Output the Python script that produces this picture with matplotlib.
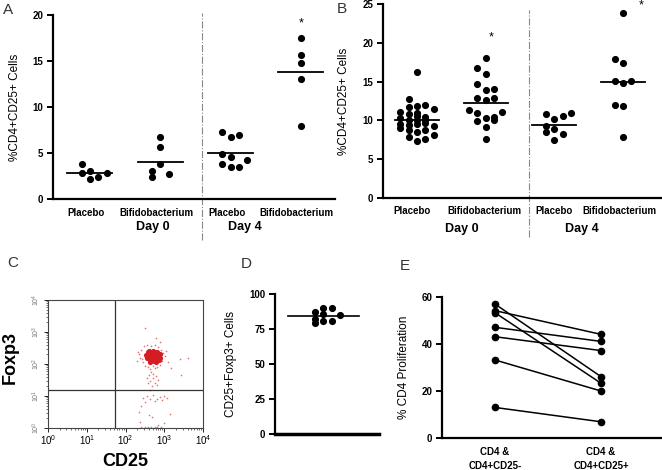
import matplotlib
matplotlib.use("Agg")
import matplotlib.pyplot as plt
import matplotlib.transforms as mtrans
import numpy as np

plt.rcParams['font.family'] = ['Liberation Sans', 'DejaVu Sans']

W, H = 662, 470

# ---------------- data ----------------
groups = ['Placebo', 'Bifidobacterium', 'Placebo', 'Bifidobacterium']
days = ['Day 0', 'Day 4']

# panel A: swarm column and value of every dot, per group
a_cols = [[-1, -1, 0, 0, 1, 2],
          [0, 0, 0, -1, -1, 1],
          [-1, -1, -1, 0, 0, 0, 1, 1, 2],
          [0, 0, 0, 0, 0]]
a_vals = [[3.8, 2.83, 3.08, 2.14, 2.43, 2.86],
          [6.7, 5.69, 3.8, 3.04, 2.43, 2.68],
          [7.25, 4.93, 3.77, 6.78, 4.53, 3.51, 6.96, 3.51, 4.24],
          [17.5, 15.7, 14.75, 13.04, 7.93]]
a_means = [2.83, 4.02, 5.0, 13.77]

# panel B
b_cols = [[-2, -2, -2, -2,
           -1, -1, -1, -1, -1, -1, -1,
           0, 0, 0, 0, 0, 0, 0, 0,
           1, 1, 1, 1, 1, 1,
           2, 2, 2],
          [-2, -1, -1, -1, -1, -1, 0, 0, 0, 0, 0, 0, 0, 1, 1, 1, 1, 2],
          [-1, -1, -1, 0, 0, 0, 1, 1, 2],
          [-1, -1, -1, 0, 0, 0, 0, 0, 1]]
b_vals = [[11.1, 10.3, 9.6, 9.0,
           12.8, 11.7, 10.8, 10.1, 9.4, 8.7, 7.8,
           16.3, 11.9, 11.0, 10.6, 10.0, 9.6, 8.5, 7.3,
           12.0, 10.5, 10.1, 9.7, 8.7, 7.6,
           11.5, 9.3, 8.1],
          [11.3, 16.7, 14.7, 12.85, 10.9, 9.9,
           18.0, 16.0, 13.9, 12.6, 10.3, 9.15, 7.66,
           14.1, 12.85, 10.5, 10.1, 11.1],
          [10.85, 9.3, 8.5, 10.2, 8.85, 7.5, 10.6, 8.3, 10.9],
          [17.9, 15.1, 12.0, 23.9, 17.45, 14.8, 11.8, 7.9, 15.1]]
b_means = [10.1, 12.3, 9.36, 15.0]

# panel C: flow cytometry events, log10 units (CD25, Foxp3)
core_cd25 = [2.55, 2.60, 2.62, 2.66, 2.68, 2.70, 2.72, 2.74, 2.76, 2.78, 2.80, 2.84, 2.88,
             2.58, 2.64, 2.70, 2.82, 2.86, 2.52, 2.90, 2.66, 2.74, 2.62, 2.78, 2.70, 2.60]
core_foxp3 = [2.20, 2.30, 2.12, 2.25, 2.35, 2.18, 2.28, 2.10, 2.24, 2.33, 2.16, 2.26, 2.20,
              2.38, 2.05, 2.40, 2.38, 2.12, 2.28, 2.30, 2.15, 2.36, 2.22, 2.05, 2.28, 2.42]
halo_cd25 = [2.35, 2.40, 2.42, 2.45, 2.38, 2.48, 2.55, 2.65, 2.75, 2.85, 2.92, 2.98, 3.02,
             2.95, 2.90, 3.05, 2.88, 2.78, 2.50, 2.58, 2.62, 2.70, 2.75, 2.82, 2.66, 2.72,
             2.60, 2.78, 2.70, 2.64, 2.58, 2.76, 2.68, 2.80, 2.55, 2.85, 2.62, 3.10, 3.18,
             3.44, 3.40, 3.60, 2.51, 2.32, 2.30,
             2.45, 2.55, 2.62, 2.70, 2.80, 2.88, 2.95, 3.00, 3.08, 2.50, 2.75, 2.40, 2.35,
             2.60, 2.68, 2.85, 3.15, 2.38, 2.40, 2.50, 2.58, 2.66, 2.75, 2.82, 2.92, 3.00]
halo_foxp3 = [2.30, 2.45, 2.15, 2.05, 2.20, 2.55, 2.60, 2.55, 2.58, 2.52, 2.45, 2.35, 2.25,
              2.10, 1.98, 2.40, 2.70, 2.80, 1.95, 1.92, 1.85, 1.95, 1.88, 1.90, 1.75, 1.70,
              1.65, 1.62, 1.55, 1.48, 1.40, 1.42, 1.30, 1.35, 1.55, 1.50, 1.20, 2.05, 1.86,
              1.65, 2.15, 2.18, 3.12, 2.38, 2.10,
              0.95, 1.00, 0.90, 1.02, 0.92, 0.98, 0.88, 1.00, 0.95, 0.82, 0.85, 0.70, 0.50,
              0.40, 0.35, 0.10, 0.45, 0.18, 0.03, 0.04, 0.03, 0.04, 0.03, 0.04, 0.03, 0.15]
gate_cd25 = 54
gate_foxp3 = 15

# panel D
d_cols = [-1, -1, -1, 0, 0, 0, 1, 1, 2]
d_vals = [87.4, 82.5, 79.5, 90.2, 85.7, 80.7, 90.2, 80.7, 85.0]
d_mean = 84.5

# panel E: paired values
e_labels = ['CD4 &\nCD4+CD25-', 'CD4 &\nCD4+CD25+']
e_left = [57.0, 54.2, 53.3, 47.1, 43.1, 33.2, 13.0]
e_right = [26.1, 44.1, 23.3, 41.1, 37.2, 20.0, 6.9]

# ---------------- figure ----------------
fig = plt.figure(figsize=(W / 100, H / 100), dpi=100)


def px_axes(l, t, r, b):
    return fig.add_axes([l / W, 1 - b / H, (r - l) / W, (b - t) / H])


def style_axes(ax):
    for s in ['top', 'right']:
        ax.spines[s].set_visible(False)
    for s in ['left', 'bottom']:
        ax.spines[s].set_linewidth(1.6)
    ax.tick_params(axis='y', direction='out', length=4, width=1.4, labelsize=7, pad=3)
    for lab in ax.get_yticklabels():
        lab.set_fontweight('bold')


def swarm_panel(ax, cols, vals, means, step, half):
    for i, (c, v) in enumerate(zip(cols, vals)):
        x = i + 1 + np.array(c) * step
        ax.scatter(x, v, s=17, color='black', zorder=3, clip_on=False)
        ax.plot([i + 1 - half, i + 1 + half], [means[i], means[i]], color='black', lw=1.3)


# ---- A ----
axA = px_axes(53, 15, 335, 199)
swarm_panel(axA, a_cols, a_vals, a_means, 0.12, 0.32)
axA.set_xlim(0.474, 4.485)
axA.set_ylim(0, 20)
axA.set_yticks([0, 5, 10, 15, 20])
axA.set_xticks([])
style_axes(axA)
axA.set_ylabel('%CD4+CD25+ Cells', fontsize=8.5)
axA.yaxis.set_label_coords((21 - 53) / 282, 0.5)
axA.axvline(2.593, ymin=(199 - 240) / 184, ymax=1.01, color='#888888', lw=0.8,
            ls='-.', clip_on=False)
axA.text(4, 19.1, '*', ha='center', va='center', fontsize=9)
trA = mtrans.blended_transform_factory(axA.transData, fig.transFigure)
for x, g in zip([0.94, 1.95, 2.95, 3.93], groups):
    axA.text(x, 1 - 216.5 / H, g, transform=trA, ha='center', va='baseline',
             fontsize=7, fontweight='bold')
for x, d in zip([1.9, 3.2], days):
    axA.text(x, 1 - 230 / H, d, transform=trA, ha='center', va='baseline',
             fontsize=9, fontweight='bold')

# ---- B ----
axB = px_axes(383, 4, 662, 198)
swarm_panel(axB, b_cols, b_vals, b_means, 0.122, 0.32)
axB.set_xlim(0.505, 4.566)
axB.set_ylim(0, 25)
axB.set_yticks([0, 5, 10, 15, 20, 25])
axB.set_xticks([])
style_axes(axB)
axB.set_ylabel('%CD4+CD25+ Cells', fontsize=8.5)
axB.yaxis.set_label_coords((350 - 383) / 279, 0.5)
axB.axvline(2.63, ymin=(198 - 237) / 194, ymax=0.97, color='#888888', lw=0.8,
            ls='-.', clip_on=False)
axB.text(2.08, 20.7, '*', ha='center', va='center', fontsize=9)
axB.text(4.27, 24.8, '*', ha='center', va='center', fontsize=9)
trB = mtrans.blended_transform_factory(axB.transData, fig.transFigure)
for x, g in zip([0.93, 1.98, 3.0, 3.94], groups):
    axB.text(x, 1 - 214 / H, g, transform=trB, ha='center', va='baseline',
             fontsize=7, fontweight='bold')
for x, d in zip([1.65, 3.4], days):
    axB.text(x, 1 - 232 / H, d, transform=trB, ha='center', va='baseline',
             fontsize=9, fontweight='bold')

# ---- C ----
axC = px_axes(48, 300, 203, 428)
axC.set_xscale('log')
axC.set_yscale('log')
axC.scatter(10 ** np.array(halo_cd25), 10 ** np.array(halo_foxp3), s=1.5,
            color='#d83a3a', alpha=0.7, lw=0)
axC.scatter(10 ** np.array(core_cd25), 10 ** np.array(core_foxp3), s=14,
            color='#d41c24', lw=0)
axC.axvline(gate_cd25, color='#333333', lw=0.9)
axC.axhline(gate_foxp3, color='#333333', lw=0.9)
axC.set_xlim(1, 1e4)
axC.set_ylim(1, 1e4)
for s in axC.spines.values():
    s.set_linewidth(0.8)
    s.set_color('#444444')
axC.tick_params(which='major', length=3, width=0.6, labelsize=7, pad=1)
axC.tick_params(which='minor', length=1.5, width=0.4)
axC.tick_params(axis='y', labelsize=5, labelcolor='#777777', labelrotation=90)
for lab in axC.get_yticklabels():
    lab.set_va('center')
fig.text(10 / W, 1 - 358 / H, 'Foxp3', rotation=90, ha='center', va='center',
         fontsize=13, fontweight='bold')
fig.text(125 / W, 1 - 462 / H, 'CD25', ha='center', va='center',
         fontsize=13, fontweight='bold')

# ---- D ----
axD = px_axes(275, 294, 379, 434)
axD.scatter(d_cols, d_vals, s=17, color='black', zorder=3)
axD.plot([-4.2, 4.3], [d_mean, d_mean], color='black', lw=1.2)
axD.set_xlim(-5.75, 6.63)
axD.set_ylim(0, 100)
axD.set_yticks([0, 25, 50, 75, 100])
axD.set_xticks([])
style_axes(axD)
axD.spines['bottom'].set_linewidth(2.5)
axD.set_ylabel('CD25+Foxp3+ Cells', fontsize=8.5)
axD.yaxis.set_label_coords((237 - 275) / 104, 0.5)

# ---- E ----
axE = px_axes(442, 297, 662, 438)
for l, r in zip(e_left, e_right):
    axE.plot([1, 2], [l, r], color='black', lw=1.1, marker='o', ms=4.5)
axE.set_xlim(0.5, 2.575)
axE.set_ylim(0, 60)
axE.set_yticks([0, 20, 40, 60])
axE.set_xticks([])
style_axes(axE)
axE.set_ylabel('% CD4 Proliferation', fontsize=8.5)
axE.yaxis.set_label_coords((410 - 442) / 220, 0.5)
trE = mtrans.blended_transform_factory(axE.transData, fig.transFigure)
for x, t in zip([1, 2], e_labels):
    axE.text(x, 1 - 459 / H, t, transform=trE, ha='center', va='center',
             fontsize=7, fontweight='bold', linespacing=1.5)

# ---- panel letters ----
for t, x, y in [('A', 8, 10), ('B', 342, 9), ('C', 13, 263), ('D', 246, 264), ('E', 405, 266)]:
    fig.text(x / W, 1 - y / H, t, ha='center', va='center', fontsize=11, color='#333333')

fig.savefig('out.png', dpi=100)
